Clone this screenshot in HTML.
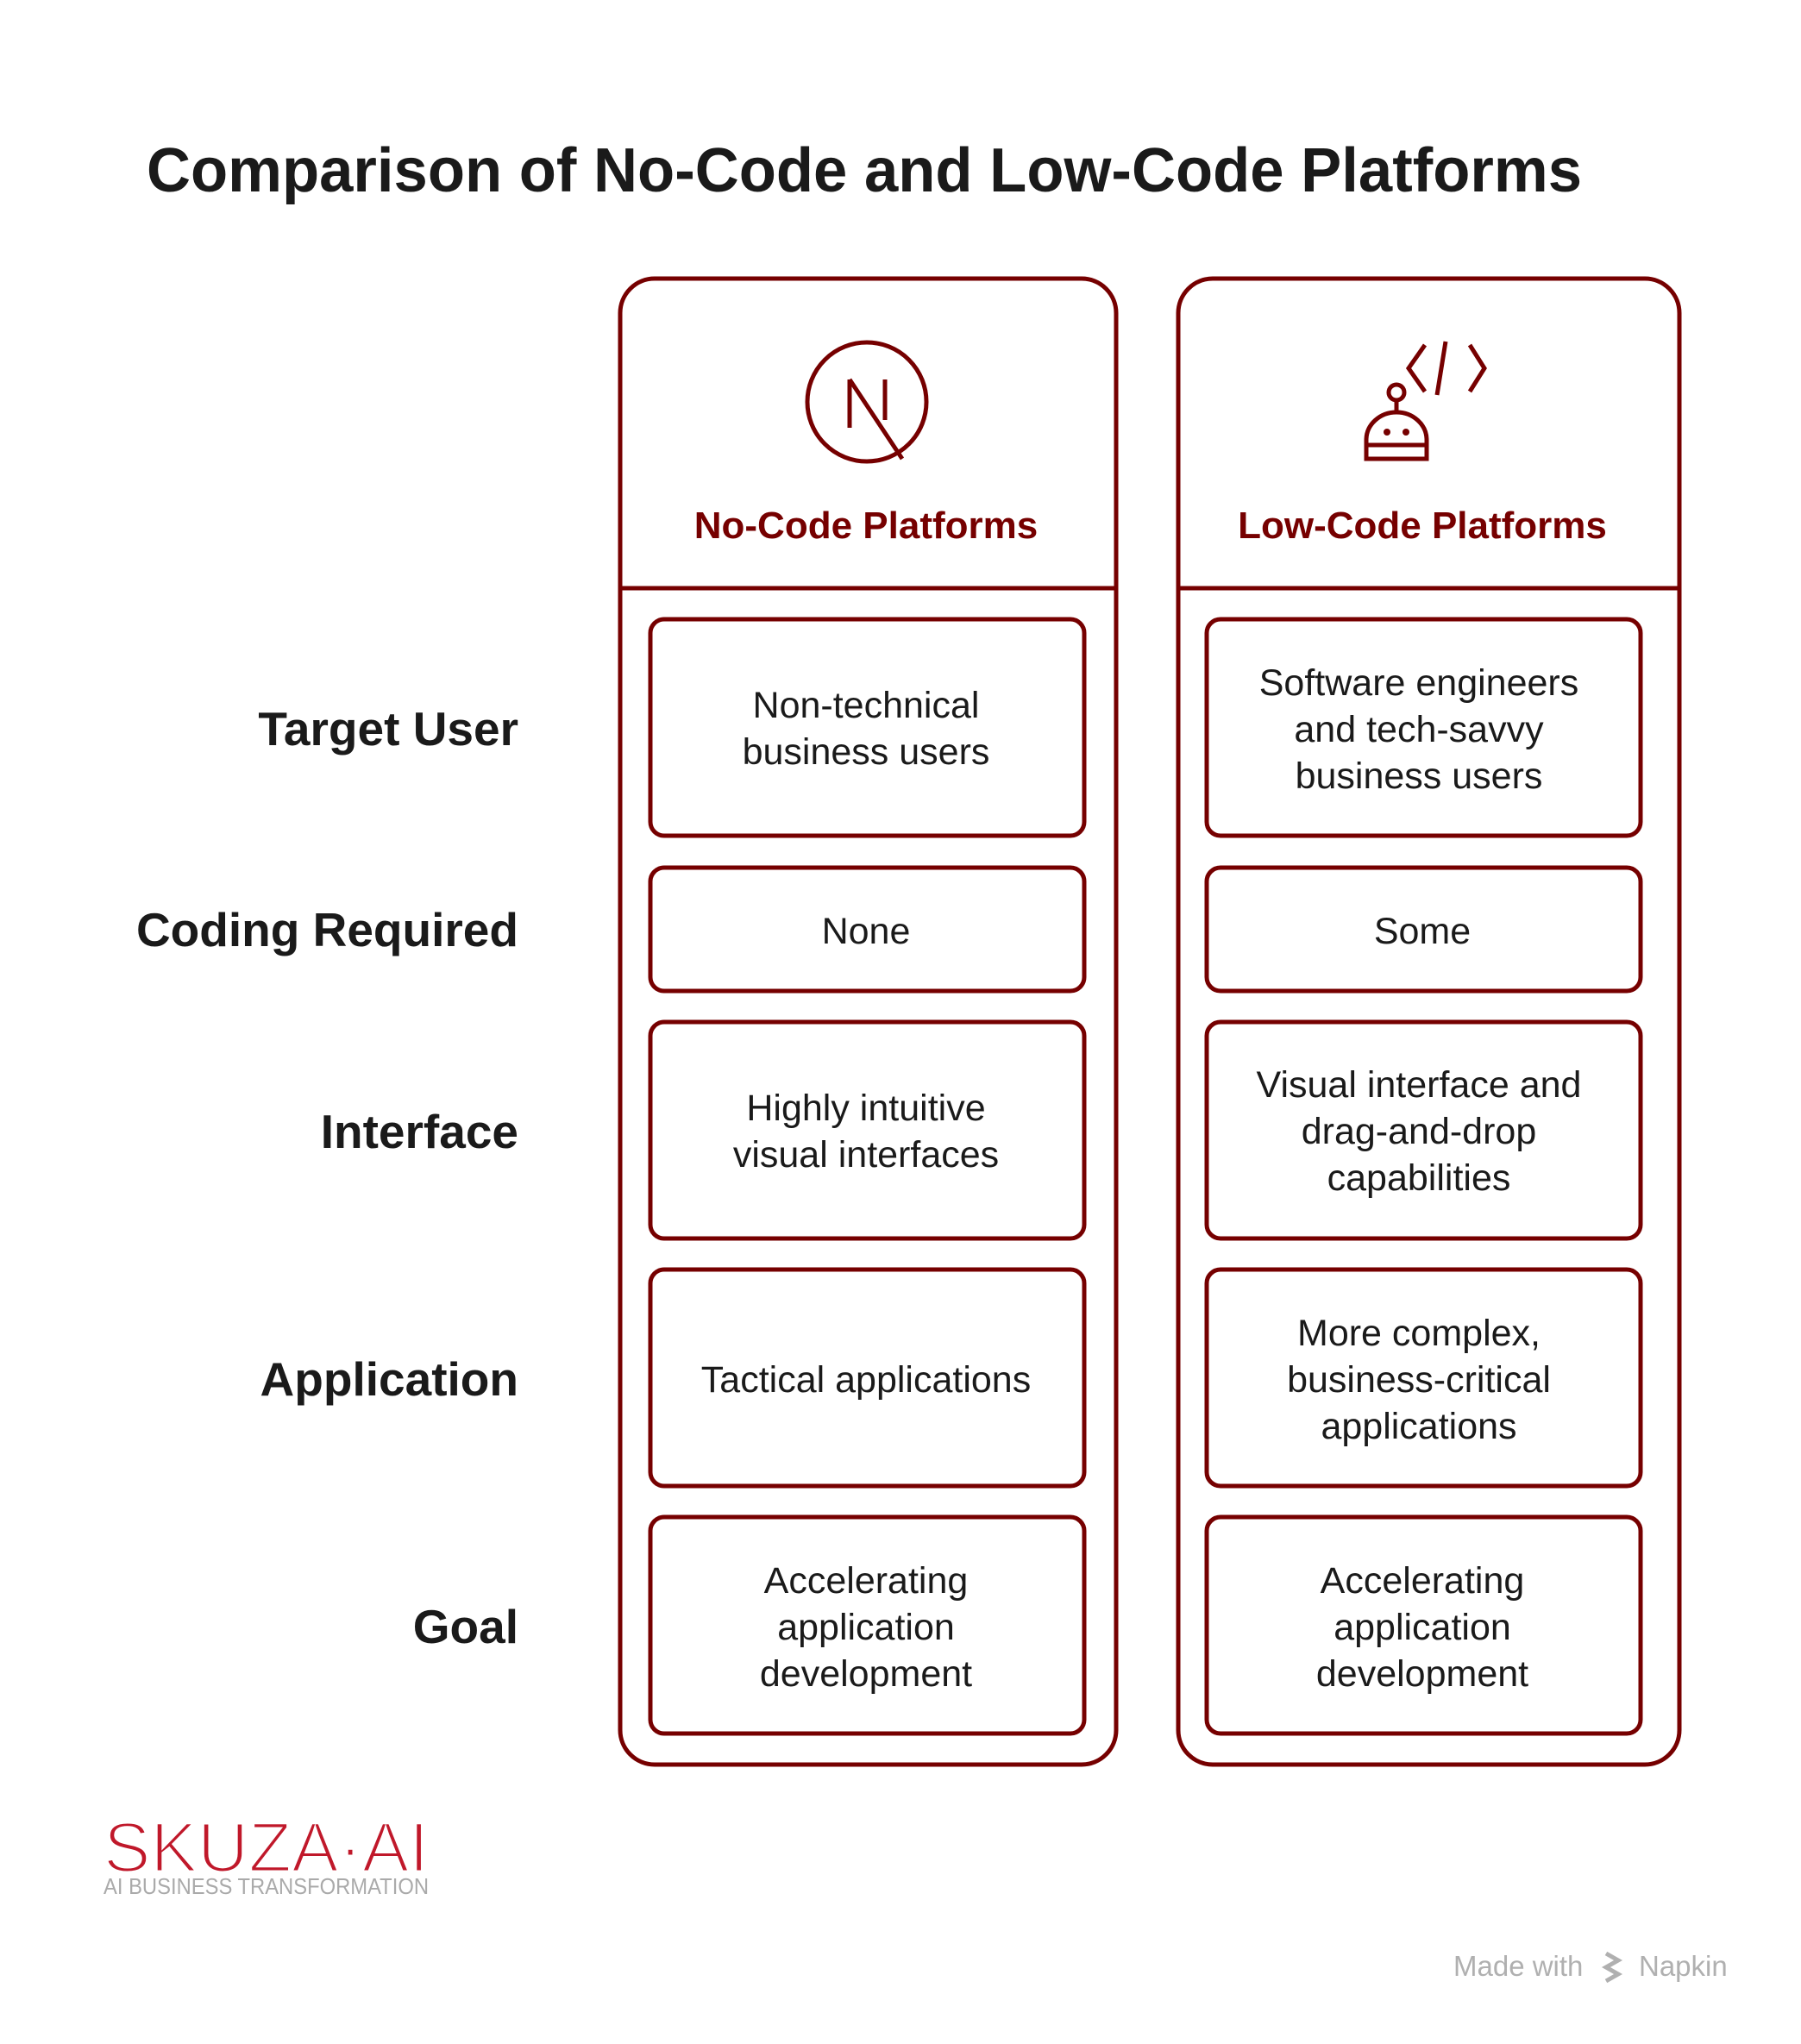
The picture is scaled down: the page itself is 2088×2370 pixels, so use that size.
<!DOCTYPE html>
<html><head><meta charset="utf-8"><style>
html,body{margin:0;padding:0;background:#fff;}
svg{display:block}
text{font-family:"Liberation Sans",sans-serif;}
</style></head><body>
<svg width="2088" height="2370" viewBox="0 0 2088 2370" xmlns="http://www.w3.org/2000/svg">
<rect width="2088" height="2370" fill="#fff"/>
<text x="170" y="222" font-size="72" font-weight="bold" fill="#1a1a1a" textLength="1664" lengthAdjust="spacingAndGlyphs">Comparison of No-Code and Low-Code Platforms</text>

<g fill="none" stroke="#760000" stroke-width="5">
<rect x="719" y="323" width="575" height="1723" rx="40"/>
<rect x="1366" y="323" width="581" height="1723" rx="40"/>
<line x1="719" y1="682" x2="1294" y2="682"/>
<line x1="1366" y1="682" x2="1947" y2="682"/>
<rect x="754" y="718" width="503" height="251" rx="16"/>
<rect x="754" y="1006" width="503" height="143" rx="16"/>
<rect x="754" y="1185" width="503" height="251" rx="16"/>
<rect x="754" y="1472" width="503" height="251" rx="16"/>
<rect x="754" y="1759" width="503" height="251" rx="16"/>
<rect x="1399" y="718" width="503" height="251" rx="16"/>
<rect x="1399" y="1006" width="503" height="143" rx="16"/>
<rect x="1399" y="1185" width="503" height="251" rx="16"/>
<rect x="1399" y="1472" width="503" height="251" rx="16"/>
<rect x="1399" y="1759" width="503" height="251" rx="16"/>
<ellipse cx="1005" cy="466" rx="69" ry="69"/>
<line x1="985" y1="440" x2="985" y2="496"/>
<line x1="1026" y1="440" x2="1026" y2="487"/>
<line x1="985" y1="440" x2="1046" y2="532"/>
<polyline points="1652,400 1633,427 1652,454"/>
<line x1="1676" y1="396" x2="1666" y2="458"/>
<polyline points="1704,400 1721,427 1704,454"/>
<circle cx="1619" cy="455" r="9"/>
<line x1="1619" y1="464" x2="1619" y2="478"/>
<path d="M1584,532 V510 a35,32 0 0 1 70,0 V532 Z"/>
<line x1="1584" y1="516" x2="1654" y2="516"/>
</g>
<circle cx="1608" cy="501" r="4" fill="#760000"/>
<circle cx="1630" cy="501" r="4" fill="#760000"/>

<g font-size="44" font-weight="bold" fill="#760000" text-anchor="middle">
<text x="1004" y="624">No-Code Platforms</text>
<text x="1649" y="624">Low-Code Platforms</text>
</g>

<g font-size="55" font-weight="bold" fill="#1a1a1a" text-anchor="end">
<text x="601" y="864">Target User</text>
<text x="601" y="1097">Coding Required</text>
<text x="601" y="1331">Interface</text>
<text x="601" y="1618">Application</text>
<text x="601" y="1905">Goal</text>
</g>

<g font-size="43" fill="#1a1a1a" text-anchor="middle">
<text x="1004" y="832">Non-technical</text>
<text x="1004" y="886">business users</text>
<text x="1004" y="1094">None</text>
<text x="1004" y="1299">Highly intuitive</text>
<text x="1004" y="1353">visual interfaces</text>
<text x="1004" y="1614">Tactical applications</text>
<text x="1004" y="1847">Accelerating</text>
<text x="1004" y="1901">application</text>
<text x="1004" y="1955">development</text>

<text x="1645" y="806">Software engineers</text>
<text x="1645" y="860">and tech-savvy</text>
<text x="1645" y="914">business users</text>
<text x="1649" y="1094">Some</text>
<text x="1645" y="1272">Visual interface and</text>
<text x="1645" y="1326">drag-and-drop</text>
<text x="1645" y="1380">capabilities</text>
<text x="1645" y="1560">More complex,</text>
<text x="1645" y="1614">business-critical</text>
<text x="1645" y="1668">applications</text>
<text x="1649" y="1847">Accelerating</text>
<text x="1649" y="1901">application</text>
<text x="1649" y="1955">development</text>
</g>

<text x="120" y="2170" font-size="82" fill="#c0182a" stroke="#fff" stroke-width="3" textLength="377" lengthAdjust="spacingAndGlyphs">SKUZA·AI</text>
<text x="120" y="2196" font-size="26" fill="#aaaaaa" textLength="377" lengthAdjust="spacingAndGlyphs">AI BUSINESS TRANSFORMATION</text>

<text x="1685" y="2291" font-size="33" fill="#b0b0b0">Made with</text>
<path d="M1862,2265 l14,8 l-14,8 l14,8 l-14,8" fill="none" stroke="#b0b0b0" stroke-width="5"/>
<text x="1900" y="2291" font-size="33" fill="#b0b0b0">Napkin</text>
</svg>
</body></html>
